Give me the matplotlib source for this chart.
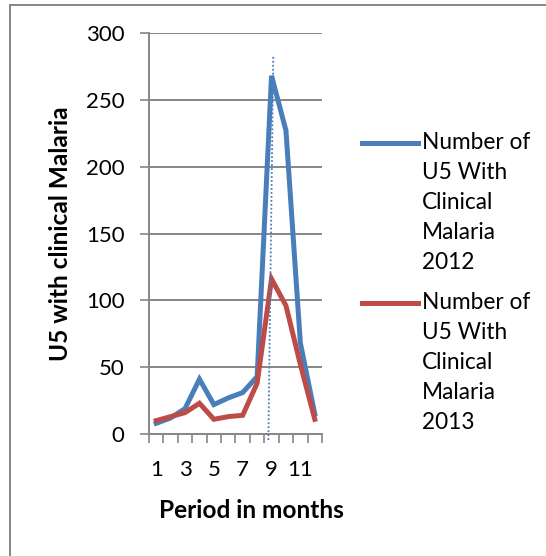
import matplotlib
matplotlib.use('Agg')
import matplotlib.pyplot as plt
from matplotlib.lines import Line2D

# data
months = list(range(1, 13))
u5_2012 = [8, 12, 19, 41, 22, 27, 31, 43, 268, 227, 68, 15]
u5_2013 = [10, 13, 16, 23, 11, 13, 14, 38, 116, 96, 52, 11]
legend_labels = ['Number of\nU5 With\nClinical\nMalaria\n2012',
                 'Number of\nU5 With\nClinical\nMalaria\n2013']
xtick_labels = ['1', '3', '5', '7', '9', '11']
marker_line = ([8.78, 9.12], [-4.5, 283])

blue = '#4A7EBB'
red = '#BE4B48'
grey = '#868686'

W, H = 546, 556
plt.rcParams['font.family'] = ['Lato', 'DejaVu Sans']

fig = plt.figure(figsize=(W / 100, H / 100), dpi=100)
ax = fig.add_axes([149 / W, 1 - 434 / H, (322 - 149) / W, (434 - 33) / H])

ax.plot(months, u5_2012, color=blue, lw=3.6, solid_joinstyle='miter', zorder=3, clip_on=False)
ax.plot(months, u5_2013, color=red, lw=3.6, solid_joinstyle='miter', zorder=4, clip_on=False)
ax.plot(marker_line[0], marker_line[1], color=blue, lw=1.3, ls=(0, (1, 1.2)), zorder=5, clip_on=False)

ax.set_xlim(0.5, 12.5)
ax.set_ylim(0, 300)
ax.set_yticks(range(0, 301, 50))
ax.yaxis.grid(True, color=grey, lw=1.4)
ax.set_axisbelow(True)

ax.set_xticks([int(t) for t in xtick_labels])
ax.set_xticklabels(xtick_labels)
ax.set_xticks([m - 0.5 for m in months] + [12.5], minor=True)
ax.tick_params(axis='x', which='major', length=0, pad=19, labelsize=16)
ax.tick_params(axis='x', which='minor', length=6.5, width=1.2, color=grey)
ax.tick_params(axis='y', length=6.5, width=1.2, color=grey, pad=11, labelsize=16)

for s in ['top', 'right']:
    ax.spines[s].set_visible(False)
for s in ['left', 'bottom']:
    ax.spines[s].set_color(grey)
    ax.spines[s].set_linewidth(1.4)

fig.text(61 / W, 1 - 234 / H, 'U5 with clinical Malaria', rotation=90,
         ha='center', va='center', fontsize=17.6, fontweight='bold')
fig.text(251 / W, 1 - 510 / H, 'Period in months', ha='center', va='center',
         fontsize=17.6, fontweight='bold')

# legend drawn by hand so the line sits at the first text line
for i, (lab, col) in enumerate(zip(legend_labels, [blue, red])):
    y0 = 143 + 160 * i
    fig.add_artist(Line2D([362 / W, 418 / W], [1 - y0 / H] * 2, color=col, lw=3.6))
    fig.text(422 / W, 1 - (y0 - 11) / H, lab, ha='left', va='top', fontsize=16.3,
             linespacing=1.53)

# outer chart frame (left and top edges visible)
fig.add_artist(Line2D([9.5 / W, 9.5 / W], [0, 1 - 4.5 / H], color=grey, lw=1.4))
fig.add_artist(Line2D([9.5 / W, 1], [1 - 4.5 / H] * 2, color=grey, lw=1.4))

fig.savefig('out.png', dpi=100)
